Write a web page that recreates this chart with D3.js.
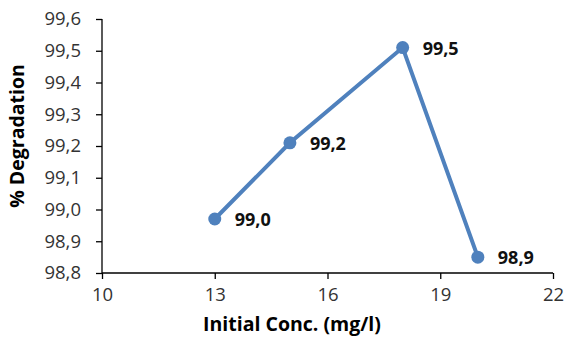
<!DOCTYPE html>
<html>
<head>
<meta charset="utf-8">
<script src="https://cdn.jsdelivr.net/npm/d3@7"></script>
<style>
  body { margin: 0; background: #fff; }
  text { font-family: "Open Sans", sans-serif; }
</style>
</head>
<body>
<div class="canva"></div>
<script>
// data
const conc = [13, 15, 18, 20]
const degradation = [98.97, 99.21, 99.51, 98.85]
const pointLabels = ['99,0', '99,2', '99,5', '98,9']
const xTicks = [10, 13, 16, 19, 22]
const yTicks = [98.8, 98.9, 99.0, 99.1, 99.2, 99.3, 99.4, 99.5, 99.6]

const width = 568
const height = 337

const margin = { top: 19, right: 15, bottom: 64, left: 102 }

const svg = d3.select('.canva').append('svg')
  .attr('width', width)
  .attr('height', height)

const graphWidth = 553 - margin.left
const graphHeight = 273 - margin.top

const graph = svg.append('g')
  .attr('transform', `translate(${margin.left}, ${margin.top})`)

const x = d3.scaleLinear().domain([10, 22]).range([0, graphWidth])
const y = d3.scaleLinear().domain([98.8, 99.6]).range([graphHeight, 0])

const comma = d => d3.format('.1f')(d).replace('.', ',')

// axes
const xAxis = d3.axisBottom(x).tickValues(xTicks).tickSize(6).tickSizeOuter(0).tickPadding(6)
const yAxis = d3.axisLeft(y).tickValues(yTicks).tickFormat(comma).tickSize(6).tickSizeOuter(0).tickPadding(15)

const xAxisGroup = graph.append('g')
  .attr('transform', `translate(0, ${graphHeight})`)
  .call(xAxis)
const yAxisGroup = graph.append('g').call(yAxis)

;[xAxisGroup, yAxisGroup].forEach(g => {
  g.selectAll('path, line').attr('stroke', '#000').attr('stroke-width', 1.3)
  g.selectAll('text').attr('fill', '#333').style('font-size', '18.5px')
})
xAxisGroup.selectAll('text').attr('dy', '0.85em')
yAxisGroup.select('.domain').attr('d', `M0,${graphHeight}V0`)
xAxisGroup.select('.domain').attr('d', `M0,0H${graphWidth}`)

// axis titles
svg.append('text')
  .attr('x', 292)
  .attr('y', 331)
  .attr('text-anchor', 'middle')
  .style('font-size', '19.5px')
  .style('font-weight', 'bold')
  .text('Initial Conc. (mg/l)')

svg.append('text')
  .attr('transform', 'translate(24, 136) rotate(-90)')
  .attr('text-anchor', 'middle')
  .style('font-size', '19.5px')
  .style('font-weight', 'bold')
  .text('% Degradation')

// line + markers
const data = conc.map((c, i) => ({ c, v: degradation[i], label: pointLabels[i] }))

const line = d3.line().x(d => x(d.c)).y(d => y(d.v))

graph.append('path')
  .datum(data)
  .attr('d', line)
  .attr('fill', 'none')
  .attr('stroke', '#4f81bd')
  .attr('stroke-width', 4)

graph.selectAll('circle')
  .data(data)
  .enter().append('circle')
  .attr('cx', d => x(d.c))
  .attr('cy', d => y(d.v))
  .attr('r', 6.5)
  .attr('fill', '#4f81bd')

graph.selectAll('.lbl')
  .data(data)
  .enter().append('text')
  .attr('class', 'lbl')
  .attr('x', d => x(d.c) + 20)
  .attr('y', d => y(d.v) + 7)
  .style('font-size', '18px')
  .style('font-weight', 'bold')
  .attr('fill', '#111')
  .text(d => d.label)
</script>
</body>
</html>
